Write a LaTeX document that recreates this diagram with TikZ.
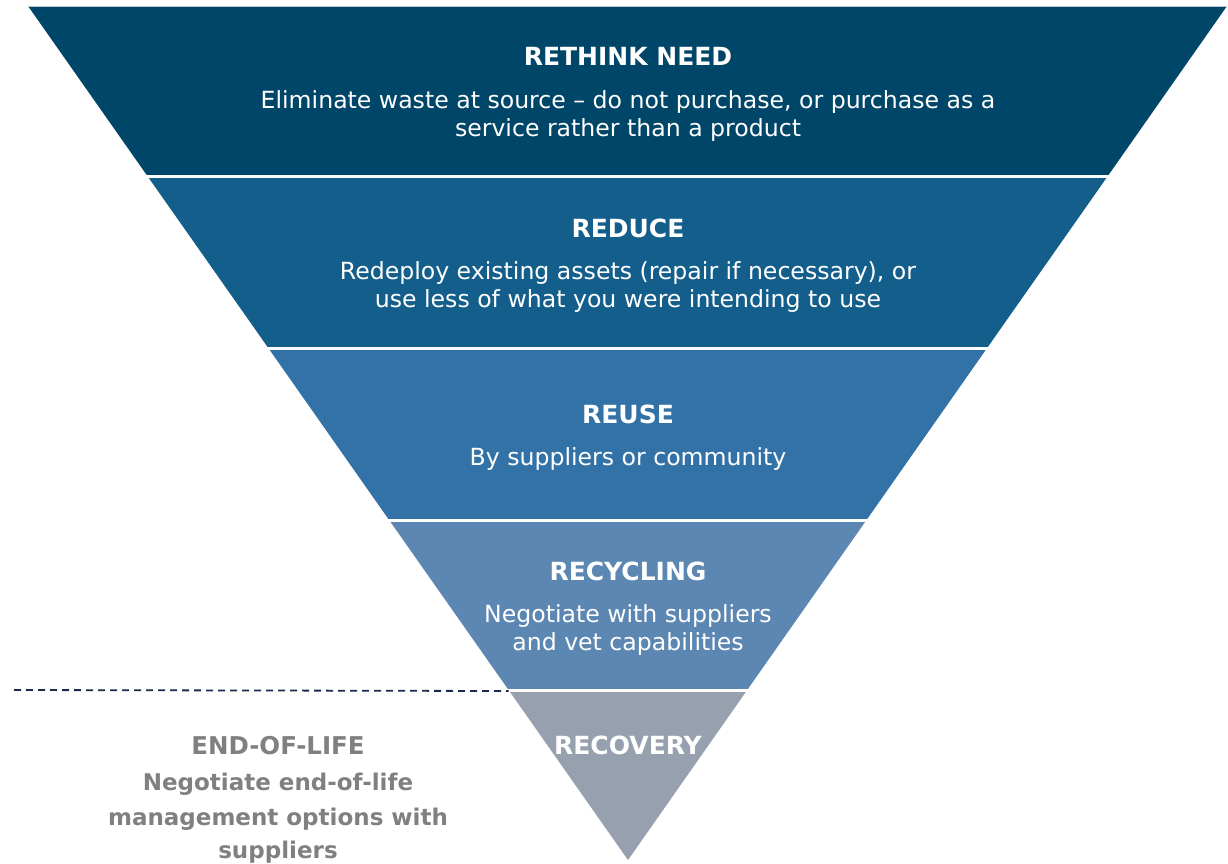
\documentclass[tikz,border=0pt]{standalone}
\usepackage{fontspec}
\setmainfont{DejaVu Sans}
\definecolor{band1}{RGB}{0,70,104}
\definecolor{band2}{RGB}{20,94,140}
\definecolor{band3}{RGB}{50,114,166}
\definecolor{band4}{RGB}{92,135,178}
\definecolor{band5}{RGB}{150,160,175}
\definecolor{eolgray}{RGB}{128,128,128}
\definecolor{dashnavy}{RGB}{25,42,75}
\tikzset{
  title/.style={font=\fontsize{25}{30}\selectfont\bfseries, text=white, inner sep=0pt, anchor=base},
  body/.style={font=\fontsize{23.6}{28}\selectfont, text=white, align=center, inner sep=0pt, anchor=base},
  eoltitle/.style={font=\fontsize{24.5}{34}\selectfont\bfseries, text=eolgray, inner sep=0pt, anchor=base},
  eolbody/.style={font=\fontsize{23}{34}\selectfont\bfseries, text=eolgray, inner sep=0pt, anchor=base},
}
\begin{document}
\begin{tikzpicture}[x=1pt,y=-1pt]
\useasboundingbox (0,0) rectangle (1228,863);
% corner coordinates
\coordinate (l0) at (28,6);     \coordinate (r0) at (1227,6);
\coordinate (l1) at (147.4,176); \coordinate (r1) at (1107.8,176);
\coordinate (l2) at (268.3,348); \coordinate (r2) at (987.1,348);
\coordinate (l3) at (389.1,520); \coordinate (r3) at (866.5,520);
\coordinate (l4) at (508.6,690); \coordinate (r4) at (747.2,690);
\coordinate (apex) at (628,860);
% bands
\fill[band1] (l0) -- (r0) -- (r1) -- (l1) -- cycle;
\fill[band2] (l1) -- (r1) -- (r2) -- (l2) -- cycle;
\fill[band3] (l2) -- (r2) -- (r3) -- (l3) -- cycle;
\fill[band4] (l3) -- (r3) -- (r4) -- (l4) -- cycle;
\fill[band5] (l4) -- (r4) -- (apex) -- cycle;
% separators
\draw[white, line width=3pt] ([xshift=-3pt]l1) -- ([xshift=3pt]r1);
\draw[white, line width=3pt] ([xshift=-3pt]l2) -- ([xshift=3pt]r2);
\draw[white, line width=3pt] ([xshift=-3pt]l3) -- ([xshift=3pt]r3);
\draw[white, line width=3pt] ([xshift=-3pt]l4) -- ([xshift=3pt]r4);
\draw[band5!60, line width=1pt] (l0) -- (r0);
% dashed line
\coordinate (dstart) at (14,690);
\draw[dashnavy, dash pattern=on 7pt off 5pt, line width=1.8pt] (dstart) -- ([yshift=-1pt]l4);
% texts
\node[title] (t1) at (628,65) {RETHINK NEED};
\node[body] (b1a) at (628,108) {Eliminate waste at source – do not purchase, or purchase as a};
\node[body] (b1b) at (628,136) {service rather than a product};
\node[title] (t2) at (628,237) {REDUCE};
\node[body] (b2a) at (628,279) {Redeploy existing assets (repair if necessary), or};
\node[body] (b2b) at (628,307) {use less of what you were intending to use};
\node[title] (t3) at (628,423) {REUSE};
\node[body] (b3a) at (628,465) {By suppliers or community};
\node[title] (t4) at (628,580) {RECYCLING};
\node[body] (b4a) at (628,622) {Negotiate with suppliers};
\node[body] (b4b) at (628,650) {and vet capabilities};
\node[title] (t5) at (628,754) {RECOVERY};
\node[eoltitle] (eolt) at (278,754) {END-OF-LIFE};
\node[eolbody] (eol1) at (278,790) {Negotiate end-of-life};
\node[eolbody] (eol2) at (278,825) {management options with};
\node[eolbody] (eol3) at (278,858) {suppliers};
\end{tikzpicture}
\end{document}
